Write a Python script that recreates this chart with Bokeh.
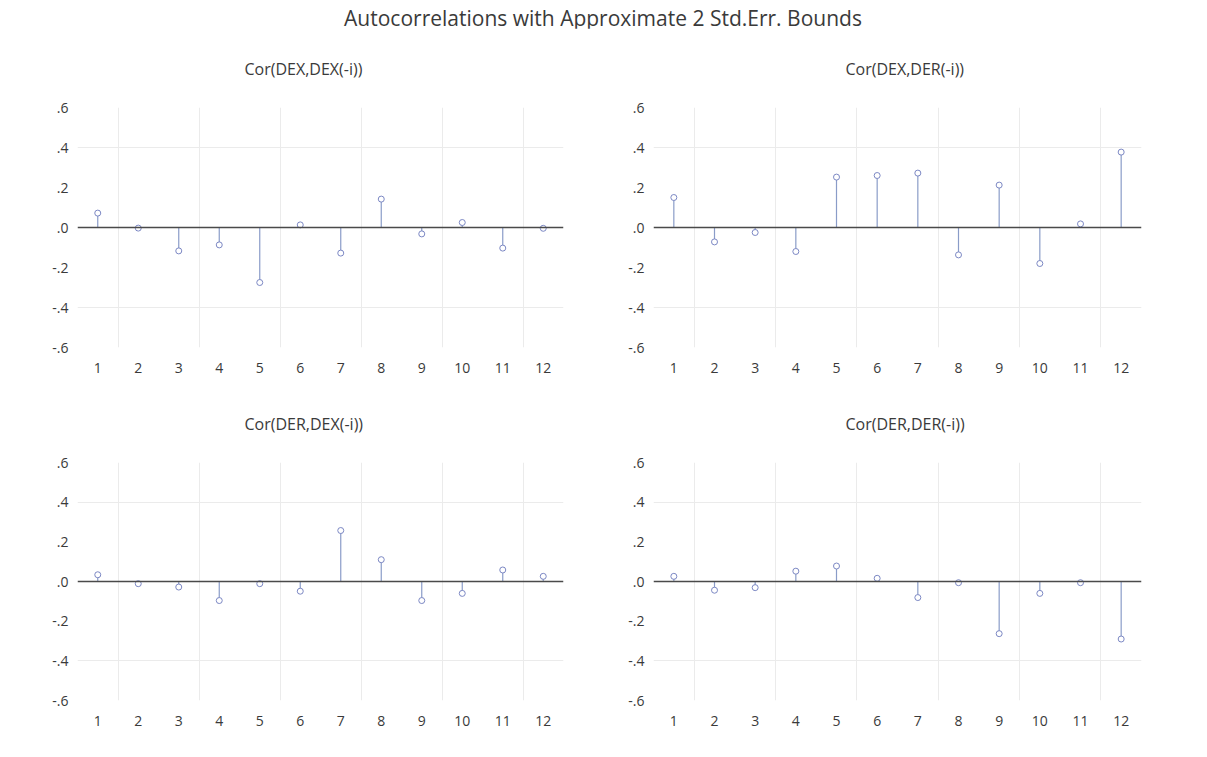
from bokeh.plotting import figure
from bokeh.layouts import column, row
from bokeh.models import Div, FixedTicker, Span, CustomJSTickFormatter
from bokeh.embed import file_html
from bokeh.resources import INLINE

main_title = "Autocorrelations with Approximate 2 Std.Err. Bounds"
lags = [1, 2, 3, 4, 5, 6, 7, 8, 9, 10, 11, 12]
panel_titles = ["Cor(DEX,DEX(-i))", "Cor(DEX,DER(-i))", "Cor(DER,DEX(-i))", "Cor(DER,DER(-i))"]

dex_dex = [0.072, -0.003, -0.117, -0.087, -0.275, 0.013, -0.128, 0.142, -0.032, 0.025, -0.103, -0.004]
dex_der = [0.150, -0.072, -0.025, -0.120, 0.252, 0.260, 0.272, -0.137, 0.212, -0.180, 0.018, 0.377]
der_dex = [0.034, -0.011, -0.028, -0.096, -0.011, -0.049, 0.257, 0.110, -0.096, -0.060, 0.058, 0.026]
der_der = [0.026, -0.044, -0.031, 0.052, 0.078, 0.016, -0.081, -0.006, -0.263, -0.060, -0.006, -0.290]

y_ticks = [-0.6, -0.4, -0.2, 0.0, 0.2, 0.4, 0.6]
y_grid = [-0.4, 0.4]
x_grid = [1.5, 3.5, 5.5, 7.5, 9.5, 11.5]

FONT = "Open Sans"
TXT = "#3a3a3a"


def panel(title, vals, width, bl, br, height, bt, bb, title_left):
    p = figure(width=width, height=height, x_range=(0.5, 12.5), y_range=(-0.6, 0.6),
               output_backend="svg", toolbar_location=None,
               min_border_left=bl, min_border_right=br, min_border_top=bt, min_border_bottom=bb,
               outline_line_color=None, background_fill_color="white", border_fill_color="white")
    p.title.text = title
    p.title.align = "left"
    p.title.offset = title_left
    p.title.text_font = FONT
    p.title.text_font_size = "16px"
    p.title.text_font_style = "normal"
    p.title.text_color = TXT
    p.title.standoff = 55
    for ax in (p.xaxis[0], p.yaxis[0]):
        ax.axis_line_color = None
        ax.major_tick_line_color = None
        ax.minor_tick_line_color = None
        ax.major_tick_in = 0
        ax.major_tick_out = 0
        ax.major_label_text_font = FONT
        ax.major_label_text_font_size = "14px"
        ax.major_label_text_color = TXT
    p.xaxis[0].ticker = FixedTicker(ticks=lags)
    p.xaxis[0].major_label_standoff = 15
    p.yaxis[0].ticker = FixedTicker(ticks=y_ticks)
    p.yaxis[0].major_label_standoff = 9
    p.yaxis[0].formatter = CustomJSTickFormatter(code="""
        const a = Math.abs(tick).toFixed(1).replace(/^0/, '');
        return (tick < -1e-9 ? '-' : '') + a;
    """)
    p.xgrid[0].ticker = FixedTicker(ticks=x_grid)
    p.ygrid[0].ticker = FixedTicker(ticks=y_grid)
    p.xgrid[0].grid_line_color = "#ebebeb"
    p.ygrid[0].grid_line_color = "#ebebeb"
    p.add_layout(Span(location=0, dimension="width", line_color="#4a4a4a", line_width=1.6))
    p.segment(x0=lags, y0=[0] * len(lags), x1=lags, y1=vals, line_color="#8a9cc8", line_width=1.2)
    p.scatter(x=lags, y=vals, marker="circle", size=6, fill_color="white",
              line_color="#7c88c4", line_width=1)
    return p


p1 = panel(panel_titles[0], dex_dex, 592, 77, 29, 355, 77, 36, 167)
p2 = panel(panel_titles[1], dex_der, 593, 61, 44, 355, 77, 36, 192)
p3 = panel(panel_titles[2], der_dex, 592, 77, 29, 357, 77, 40, 167)
p4 = panel(panel_titles[3], der_der, 593, 61, 44, 357, 77, 40, 192)

title_div = Div(text=main_title, width=1200, height=28, margin=0,
                styles={"font-family": FONT, "font-size": "21px", "text-align": "center",
                        "line-height": "36px", "color": TXT, "width": "1206px",
                        "overflow": "visible"})

layout = column(title_div, row(p1, p2, spacing=0), row(p3, p4, spacing=0), spacing=0)

with open("out.html", "w") as f:
    f.write(file_html(layout, INLINE))
